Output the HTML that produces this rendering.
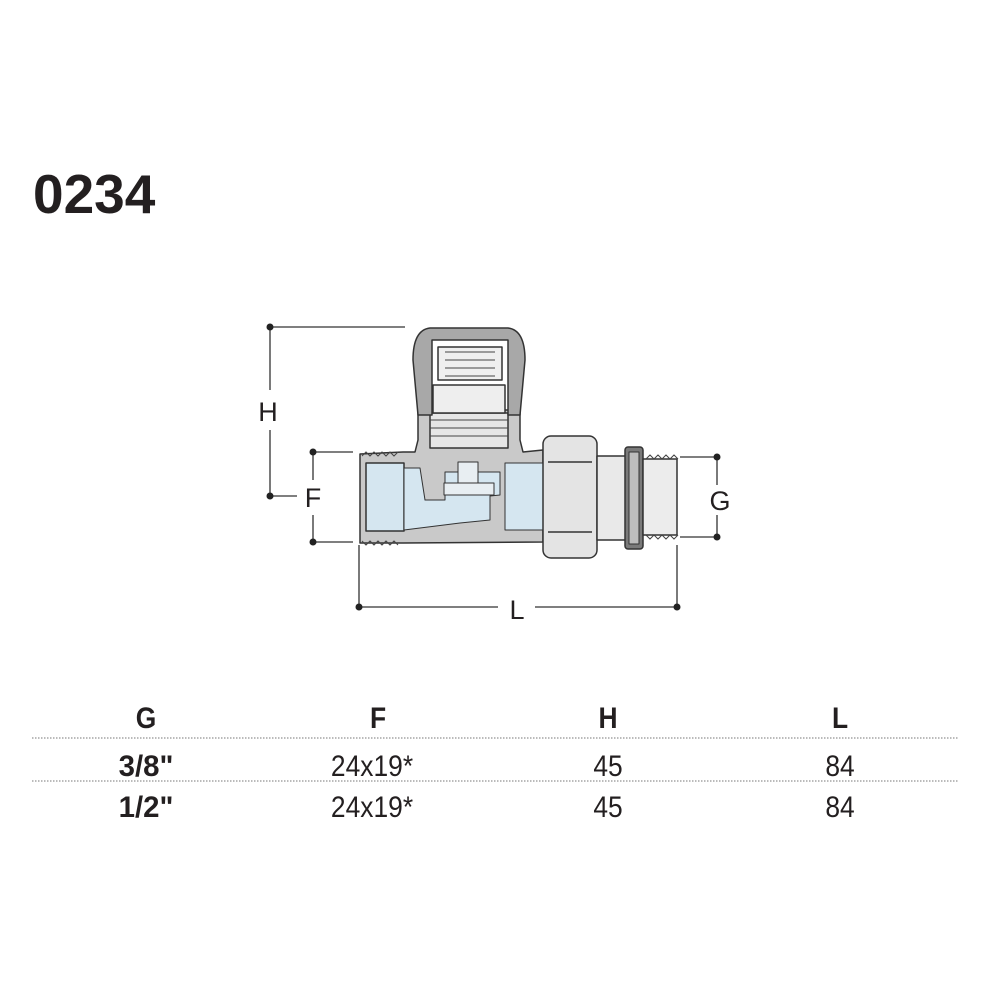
<!DOCTYPE html>
<html><head><meta charset="utf-8"><style>
html,body{margin:0;padding:0;background:#fff;}
svg{display:block;}
text{font-family:"Liberation Sans",sans-serif;fill:#231f20;}
</style></head><body>
<svg width="1000" height="1000" viewBox="0 0 1000 1000" xmlns="http://www.w3.org/2000/svg">
<rect width="1000" height="1000" fill="#fff"/>
<text x="33" y="213" font-size="55" font-weight="bold">0234</text>

<g stroke="#333" stroke-width="1.3" fill="none">
<line x1="270" y1="327" x2="405" y2="327"/>
<line x1="270" y1="327" x2="270" y2="390"/>
<line x1="270" y1="430" x2="270" y2="496"/>
<line x1="270" y1="496" x2="297" y2="496"/>
<line x1="313" y1="452" x2="353" y2="452"/>
<line x1="313" y1="542" x2="353" y2="542"/>
<line x1="313" y1="452" x2="313" y2="480"/>
<line x1="313" y1="515" x2="313" y2="542"/>
<line x1="680" y1="457" x2="717" y2="457"/>
<line x1="680" y1="537" x2="717" y2="537"/>
<line x1="717" y1="457" x2="717" y2="485"/>
<line x1="717" y1="515" x2="717" y2="537"/>
<line x1="359" y1="545" x2="359" y2="607"/>
<line x1="677" y1="545" x2="677" y2="607"/>
<line x1="359" y1="607" x2="498" y2="607"/>
<line x1="535" y1="607" x2="677" y2="607"/>
</g>
<g fill="#222">
<circle cx="270" cy="327" r="3.5"/><circle cx="270" cy="496" r="3.5"/>
<circle cx="313" cy="452" r="3.5"/><circle cx="313" cy="542" r="3.5"/>
<circle cx="717" cy="457" r="3.5"/><circle cx="717" cy="537" r="3.5"/>
<circle cx="359" cy="607" r="3.5"/><circle cx="677" cy="607" r="3.5"/>
</g>
<g font-size="27" text-anchor="middle">
<text x="268" y="421">H</text>
<text x="313" y="507">F</text>
<text x="720" y="510">G</text>
<text x="517" y="619">L</text>
</g>

<g stroke="#333" stroke-width="1.5" stroke-linejoin="round">
<path d="M360 454 L403 452 L415 452 L418 440 L418 410 L520 410 L520 440 L523 452 L543 450 L543 542 L403 543 L360 543 Z" fill="#c9c9c9"/>
<rect x="366" y="463" width="38" height="68" fill="#d5e6f0"/>
<path d="M404 468 L420 468 L425 500 L445 500 L445 472 L500 472 L500 495 L490 496 L490 520 L460 523 L404 530 Z" fill="#d5e6f0" stroke-width="1"/>
<path d="M505 463 L543 463 L543 530 L505 530 Z" fill="#d5e6f0" stroke-width="1"/>
<rect x="458" y="462" width="20" height="22" fill="#e8eef2" stroke-width="1"/>
<rect x="444" y="483" width="50" height="12" fill="#e8eef2" stroke-width="1"/>
<rect x="430" y="413" width="78" height="35" fill="#e6e6e6"/>
<rect x="433" y="385" width="72" height="28" fill="#eeeeee"/>
<path d="M418 415 L413 360 Q413 330 430 328 L508 328 Q525 330 525 360 L520 415 L508 415 L508 340 L432 340 L432 415 Z" fill="#a8a8a8"/>
<rect x="438" y="347" width="64" height="33" fill="#efefef"/>
<rect x="543" y="436" width="54" height="122" rx="8" fill="#e4e4e4"/>
<line x1="548" y1="462" x2="592" y2="462"/><line x1="548" y1="532" x2="592" y2="532"/>
<rect x="597" y="456" width="30" height="84" fill="#e9e9e9"/>
<rect x="625" y="447" width="18" height="102" rx="3" fill="#7a7a7a"/>
<rect x="629" y="452" width="10" height="92" fill="#bdbdbd" stroke-width="1"/>
<rect x="643" y="459" width="34" height="76" fill="#ececec"/>
</g>
<g stroke="#444" stroke-width="1" fill="none">
<path d="M362 456 l4 -4 l4 4 l4 -4 l4 4 l4 -4 l4 4 l4 -4 l4 4 l4 -4"/>
<path d="M362 541 l4 4 l4 -4 l4 4 l4 -4 l4 4 l4 -4 l4 4 l4 -4 l4 4"/>
<path d="M646 459 l4 -4 l4 4 l4 -4 l4 4 l4 -4 l4 4 l4 -4 l4 4"/>
<path d="M646 535 l4 4 l4 -4 l4 4 l4 -4 l4 4 l4 -4 l4 4 l4 -4"/>
<line x1="445" y1="352" x2="495" y2="352"/><line x1="445" y1="360" x2="495" y2="360"/>
<line x1="445" y1="368" x2="495" y2="368"/><line x1="445" y1="376" x2="495" y2="376"/>
<line x1="430" y1="420" x2="508" y2="420"/><line x1="430" y1="428" x2="508" y2="428"/>
<line x1="430" y1="436" x2="508" y2="436"/>
</g>

<g font-size="30" text-anchor="middle">
<g font-weight="bold">
<text transform="translate(146 728) scale(0.88 1)">G</text>
<text transform="translate(378 728) scale(0.88 1)">F</text>
<text transform="translate(608 728) scale(0.88 1)">H</text>
<text transform="translate(840 728) scale(0.88 1)">L</text>
<text transform="translate(146 776) scale(0.98 1)">3/8"</text>
<text transform="translate(146 817) scale(0.98 1)">1/2"</text>
</g>
<text transform="translate(372 776) scale(0.88 1)">24x19*</text>
<text transform="translate(608 776) scale(0.88 1)">45</text>
<text transform="translate(840 776) scale(0.88 1)">84</text>
<text transform="translate(372 817) scale(0.88 1)">24x19*</text>
<text transform="translate(608 817) scale(0.88 1)">45</text>
<text transform="translate(840 817) scale(0.88 1)">84</text>
</g>
<g stroke="#777" stroke-width="1" stroke-dasharray="1.5 1.5">
<line x1="32" y1="738" x2="958" y2="738"/>
<line x1="32" y1="781" x2="958" y2="781"/>
</g>
</svg>
</body></html>
